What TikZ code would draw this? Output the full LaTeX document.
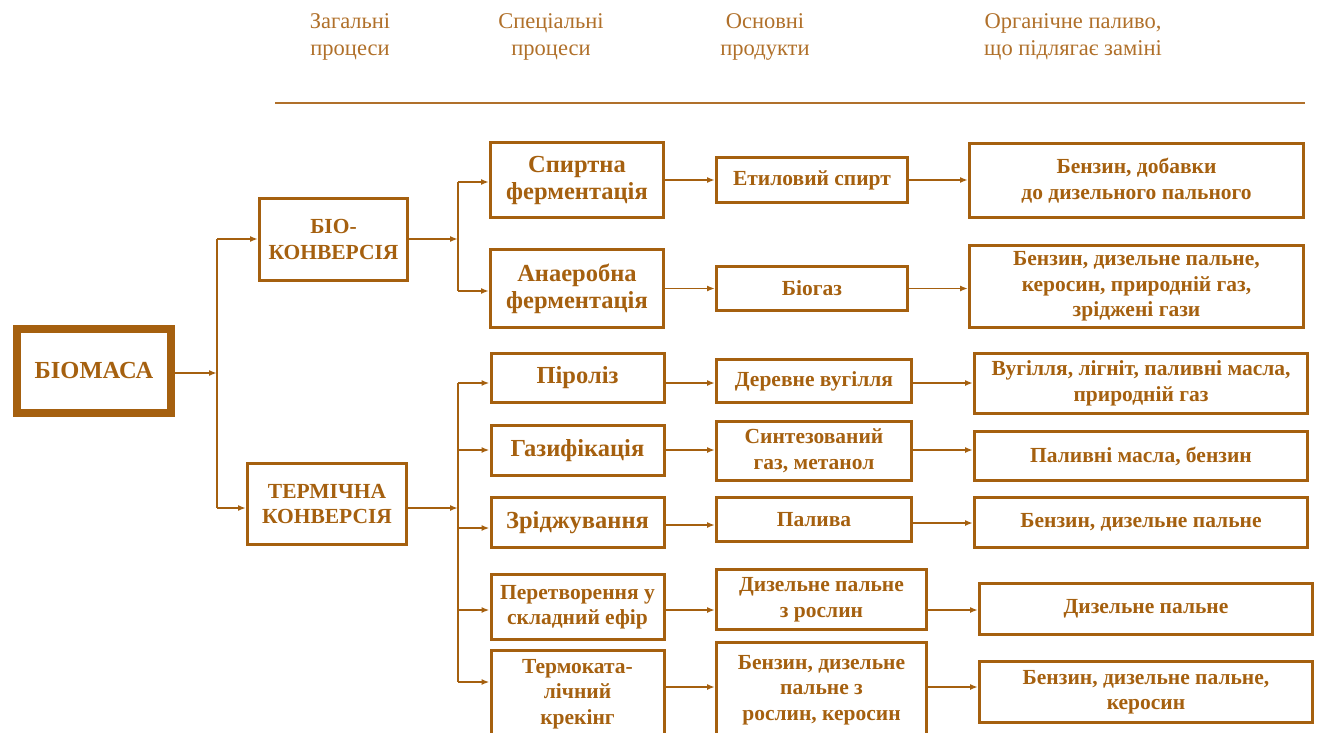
\documentclass[tikz,border=0pt]{standalone}
\usepackage{fontspec}
\setmainfont{Liberation Serif}
\usetikzlibrary{arrows.meta}
\definecolor{brn}{HTML}{A5600F}
\definecolor{hdr}{HTML}{B0702A}
\tikzset{
  box/.style={draw=brn, line width=3pt, text=brn, align=center, inner sep=1pt,
    font=\bfseries\fontsize{21.5}{25.5}\selectfont},
  bigtext/.style={font=\bfseries\fontsize{24.5}{27}\selectfont},
  conn/.style={draw=brn, line width=1.6pt, -{Latex[length=8pt,width=6pt]}},
  plain/.style={draw=brn, line width=1.6pt},
  head/.style={text=hdr, align=center, font=\fontsize{22.5}{27}\selectfont}
}
\begin{document}
\begin{tikzpicture}[x=1pt,y=-1pt]
\useasboundingbox (0,0) rectangle (1319,733);
\clip (0,0) rectangle (1319,733);
% header
\node[head] (h1) at (350,37) {Загальні\\процеси};
\node[head] (h2) at (551,37) {Спеціальні\\процеси};
\node[head] (h3) at (765,37) {Основні\\продукти};
\node[head] (h4) at (1073,37) {Органічне паливо,\\що підлягає заміні};
\coordinate (hl) at (275,103);
\coordinate (hr) at (1305,103);
\draw[draw=hdr, line width=2.6pt] (hl) -- (hr);
% level 1
\node[box, line width=8pt, minimum width=154pt, minimum height=84pt, font=\bfseries\fontsize{24.5}{27}\selectfont] (bio) at (94,371) {БІОМАСА};
\node[box, minimum width=148pt, minimum height=82pt] (bc) at (333.5,239.5) {БІО-\\КОНВЕРСІЯ};
\node[box, minimum width=159pt, minimum height=81pt] (tc) at (327,504) {ТЕРМІЧНА\\КОНВЕРСІЯ};
% level 2
\node[box, bigtext, minimum width=173pt, minimum height=75pt] (sf) at (577,180) {Спиртна\\ферментація};
\node[box, bigtext, minimum width=173pt, minimum height=78pt] (af) at (577,288.5) {Анаеробна\\ферментація};
\node[box, bigtext, minimum width=173pt, minimum height=49pt] (pz) at (577.5,378) {Піроліз};
\node[box, bigtext, minimum width=173pt, minimum height=50pt] (gz) at (577.5,450.5) {Газифікація};
\node[box, bigtext, minimum width=173pt, minimum height=50pt] (zr) at (577.5,522.5) {Зріджування};
\node[box, minimum width=173pt, minimum height=65pt] (pe) at (577.5,607) {Перетворення у\\складний ефір};
\node[box, minimum width=173pt, minimum height=88pt] (tk) at (577.5,694) {Термоката-\\лічний\\крекінг};
% level 3
\node[box, minimum width=191pt, minimum height=45pt] (es) at (812,180) {Етиловий спирт};
\node[box, minimum width=191pt, minimum height=44pt] (bg) at (812,288.5) {Біогаз};
\node[box, minimum width=195pt, minimum height=43pt] (dv) at (814,381) {Деревне вугілля};
\node[box, minimum width=195pt, minimum height=59pt] (sg) at (814,451) {Синтезований\\газ, метанол};
\node[box, minimum width=195pt, minimum height=44pt] (pl) at (814,519.5) {Палива};
\node[box, minimum width=210pt, minimum height=60pt] (dr) at (821.5,599.5) {Дизельне пальне\\з рослин};
\node[box, minimum width=210pt, minimum height=95pt] (bk) at (821.5,690) {Бензин, дизельне\\пальне з\\рослин, керосин};
% level 4
\node[box, minimum width=334pt, minimum height=74pt] (p1) at (1136.5,180.5) {Бензин, добавки\\до дизельного пального};
\node[box, minimum width=334pt, minimum height=82pt] (p2) at (1136.5,286.5) {Бензин, дизельне пальне,\\керосин, природній газ,\\зріджені гази};
\node[box, minimum width=333pt, minimum height=60pt] (p3) at (1141,383.5) {Вугілля, лігніт, паливні масла,\\природній газ};
\node[box, minimum width=333pt, minimum height=49pt] (p4) at (1141,456) {Паливні масла, бензин};
\node[box, minimum width=333pt, minimum height=50pt] (p5) at (1141,522.5) {Бензин, дизельне пальне};
\node[box, minimum width=333pt, minimum height=51pt] (p6) at (1146,609) {Дизельне пальне};
\node[box, minimum width=333pt, minimum height=61pt] (p7) at (1146,692) {Бензин, дизельне пальне,\\керосин};
% trunk from biomass
\coordinate (t1) at (217,373);
\coordinate (t1a) at (217,239);
\coordinate (t1b) at (217,508);
\draw[conn] (bio.east |- t1) -- (t1);
\draw[plain] (t1a) -- (t1b);
\draw[conn] (t1a) -- (t1a -| bc.west);
\draw[conn] (t1b) -- (t1b -| tc.west);
% bio branch
\coordinate (b1) at (458,239);
\coordinate (b1a) at (458,182);
\coordinate (b1b) at (458,291);
\draw[conn] (bc.east |- b1) -- (b1);
\draw[plain] (b1a) -- (b1b);
\draw[conn] (b1a) -- (b1a -| sf.west);
\draw[conn] (b1b) -- (b1b -| af.west);
% thermal branch
\coordinate (c1) at (458,508);
\coordinate (c1a) at (458,383);
\coordinate (c1b) at (458,450);
\coordinate (c1c) at (458,528);
\coordinate (c1d) at (458,610);
\coordinate (c1e) at (458,682);
\draw[conn] (tc.east |- c1) -- (c1);
\draw[plain] (c1a) -- (c1e);
\draw[conn] (c1a) -- (c1a -| pz.west);
\draw[conn] (c1b) -- (c1b -| gz.west);
\draw[conn] (c1c) -- (c1c -| zr.west);
\draw[conn] (c1d) -- (c1d -| pe.west);
\draw[conn] (c1e) -- (c1e -| tk.west);
% level 2 -> 3
\draw[conn] (sf.east |- es.west) -- (es.west);
\draw[conn] (af.east |- bg.west) -- (bg.west);
\coordinate (d1) at (665,383);
\coordinate (d2) at (665,450);
\coordinate (d3) at (665,525);
\coordinate (d4) at (665,610);
\coordinate (d5) at (665,687);
\draw[conn] (d1) -- (d1 -| dv.west);
\draw[conn] (d2) -- (d2 -| sg.west);
\draw[conn] (d3) -- (d3 -| pl.west);
\draw[conn] (d4) -- (d4 -| dr.west);
\draw[conn] (d5) -- (d5 -| bk.west);
% level 3 -> 4
\draw[conn] (es.east) -- (es.east -| p1.west);
\draw[conn] (bg.east) -- (bg.east -| p2.west);
\coordinate (e1) at (913,383);
\coordinate (e2) at (913,450);
\coordinate (e3) at (913,523);
\coordinate (e4) at (928,610);
\coordinate (e5) at (928,687);
\draw[conn] (e1) -- (e1 -| p3.west);
\draw[conn] (e2) -- (e2 -| p4.west);
\draw[conn] (e3) -- (e3 -| p5.west);
\draw[conn] (e4) -- (e4 -| p6.west);
\draw[conn] (e5) -- (e5 -| p7.west);
\end{tikzpicture}
\end{document}
